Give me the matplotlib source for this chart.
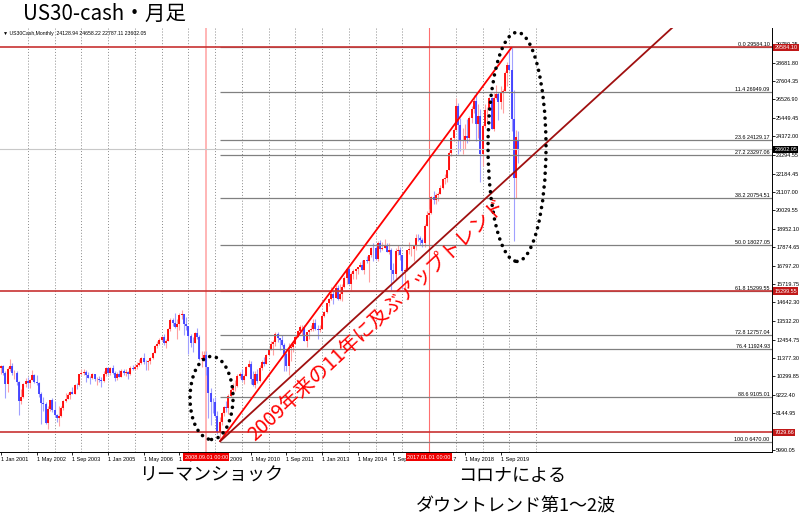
import numpy as np
import matplotlib
matplotlib.use('Agg')
import matplotlib.pyplot as plt
from matplotlib.patches import Ellipse
from matplotlib import font_manager as fm

plt.rcParams['font.family'] = ['Noto Sans CJK JP', 'DejaVu Sans']
_names = {f.name for f in fm.fontManager.ttflist}
SMALL = 'Liberation Sans Narrow' if 'Liberation Sans Narrow' in _names else 'Liberation Sans'

# ---------------- data (monthly bars, Jan 2001 .. May 2020) ----------------
first_open = 10788.0
last_open = 24128.94

close_2001 = [10887, 10495, 9879, 10735, 10912, 10502, 10523, 9950, 8848, 9075, 9852, 10022]
high_2001 = [10984, 10984, 10640, 10868, 11350, 11100, 10650, 10600, 10050, 9550, 9900, 10190]
low_2001 = [10435, 10390, 9047, 9390, 10600, 10375, 10175, 9820, 8062, 8660, 9050, 9700]

close_2002 = [9920, 10106, 10404, 9946, 9925, 9243, 8737, 8664, 7592, 8397, 8896, 8342]
high_2002 = [10260, 10160, 10670, 10450, 10400, 10000, 9400, 9120, 8800, 8540, 8930, 9040]
low_2002 = [9650, 9600, 10100, 9900, 9800, 9100, 7532, 8250, 7500, 7197, 8250, 8230]

close_2003 = [8054, 7891, 7992, 8480, 8850, 8985, 9234, 9416, 9275, 9801, 9782, 10454]
high_2003 = [8870, 8110, 8550, 8550, 8920, 9350, 9340, 9460, 9690, 9830, 9890, 10460]
low_2003 = [7950, 7650, 7417, 7900, 8350, 8800, 8950, 9000, 9250, 9250, 9550, 9760]

close_2004 = [10488, 10584, 10358, 10226, 10188, 10435, 10140, 10174, 10080, 10027, 10428, 10783]
high_2004 = [10760, 10760, 10700, 10580, 10300, 10500, 10450, 10250, 10350, 10250, 10600, 10870]
low_2004 = [10380, 10400, 10000, 10200, 9850, 10130, 10050, 9780, 10000, 9710, 10000, 10350]

close_2005 = [10490, 10766, 10504, 10193, 10467, 10275, 10641, 10482, 10569, 10440, 10806, 10718]
high_2005 = [10870, 10850, 10985, 10600, 10550, 10700, 10730, 10720, 10720, 10600, 10900, 10950]
low_2005 = [10360, 10400, 10420, 10010, 10100, 10250, 10250, 10400, 10350, 10150, 10400, 10650]

close_2006 = [10865, 10993, 11109, 11367, 11168, 11150, 11186, 11381, 11679, 12081, 12222, 12463]
high_2006 = [11050, 11120, 11300, 11450, 11670, 11250, 11260, 11450, 11720, 12170, 12350, 12530]
low_2006 = [10650, 10750, 10900, 11000, 11000, 10700, 10700, 11000, 11300, 11650, 11950, 12150]

close_2007 = [12622, 12269, 12354, 13063, 13628, 13409, 13212, 13358, 13896, 13930, 13372, 13265]
high_2007 = [12650, 12800, 12470, 13150, 13700, 13700, 14020, 13650, 14000, 14198, 13930, 13800]
low_2007 = [12350, 12150, 11940, 12350, 12950, 13250, 13150, 12510, 13000, 13670, 12740, 13050]

close_2008 = [12650, 12266, 12263, 12820, 12638, 11350, 11378, 11544, 10851, 9325, 8829, 8776]
high_2008 = [13280, 12770, 12630, 12900, 13130, 12700, 11800, 11810, 11790, 10880, 9650, 9030]
low_2008 = [11630, 12050, 11730, 12260, 12480, 11290, 10830, 11220, 10365, 7880, 7450, 8150]

close_2009 = [8001, 7063, 7609, 8168, 8500, 8447, 9172, 9496, 9712, 9713, 10345, 10428]
high_2009 = [9090, 8300, 7930, 8200, 8580, 8880, 9250, 9630, 9920, 10120, 10470, 10580]
low_2009 = [7900, 6950, 6470, 7450, 8000, 8200, 8090, 9080, 9250, 9430, 9670, 10230]

close_2010 = [10067, 10325, 10857, 11009, 10137, 9774, 10466, 10015, 10788, 11118, 11006, 11578]
high_2010 = [10730, 10420, 10910, 11260, 11210, 10600, 10600, 10720, 10960, 11250, 11450, 11620]
low_2010 = [10030, 9830, 10320, 10850, 9870, 9760, 9610, 9930, 9990, 10700, 10930, 11000]

close_2011 = [11892, 12226, 12320, 12811, 12570, 12414, 12143, 11614, 10913, 11955, 12046, 12218]
high_2011 = [11980, 12390, 12420, 12880, 12880, 12570, 12750, 12280, 11720, 12280, 12130, 12340]
low_2011 = [11550, 11860, 11550, 12090, 12330, 11860, 12100, 10600, 10600, 10360, 11230, 11730]

close_2012 = [12633, 12952, 13212, 13214, 12393, 12880, 13009, 13091, 13437, 13096, 13026, 13104]
high_2012 = [12720, 13010, 13290, 13340, 13340, 12900, 13080, 13330, 13650, 13660, 13290, 13310]
low_2012 = [12190, 12620, 12890, 12710, 12390, 12030, 12490, 12960, 12990, 13020, 12470, 12880]

close_2013 = [13861, 14054, 14579, 14840, 15116, 14910, 15500, 14810, 15130, 15546, 16086, 16577]
high_2013 = [13970, 14150, 14590, 14890, 15540, 15340, 15630, 15660, 15710, 15720, 16170, 16590]
low_2013 = [13100, 13780, 14000, 14440, 14750, 14550, 14900, 14760, 14780, 14720, 15480, 15700]

close_2014 = [15699, 16322, 16458, 16581, 16717, 16827, 16563, 17098, 17043, 17391, 17828, 17823]
high_2014 = [16590, 16400, 16590, 16630, 16740, 16980, 17150, 17150, 17350, 17400, 17900, 18100]
low_2014 = [15690, 15340, 16000, 16020, 16330, 16700, 16560, 16330, 16940, 15850, 17300, 17070]

close_2015 = [17165, 18133, 17776, 17841, 18011, 17620, 17690, 16528, 16285, 17664, 17720, 17425]
high_2015 = [17950, 18240, 18290, 18170, 18350, 18140, 18140, 17820, 16940, 17800, 17980, 17890]
low_2015 = [17130, 17040, 17580, 17690, 17810, 17600, 17460, 15370, 15940, 16010, 17400, 17140]

close_2016 = [16466, 16517, 17685, 17774, 17787, 17930, 18432, 18401, 18308, 18142, 19124, 19763]
high_2016 = [17410, 16650, 17720, 18170, 17930, 18020, 18620, 18670, 18540, 18400, 19230, 19990]
low_2016 = [15450, 15500, 16450, 17480, 17330, 17060, 17710, 18250, 17990, 17890, 17890, 19120]

close_2017 = [19864, 20812, 20663, 20941, 21009, 21350, 21891, 21948, 22405, 23377, 24272, 24719]
high_2017 = [20130, 20850, 21170, 21070, 21110, 21540, 21930, 22180, 22420, 23490, 24330, 24880]
low_2017 = [19680, 19830, 20410, 20380, 20550, 20990, 21280, 21600, 21710, 22420, 23240, 24090]

close_2018 = [26149, 25029, 24103, 24163, 24416, 24271, 25415, 25965, 26458, 25116, 25538, 23327]
high_2018 = [26617, 26310, 25450, 24860, 25090, 25400, 25530, 26170, 26770, 26950, 26280, 25980]
low_2018 = [24740, 23360, 23510, 23340, 23640, 23990, 24080, 25120, 25730, 24120, 24270, 21710]

close_2019 = [25000, 25916, 25929, 26593, 24815, 26600, 26864, 26403, 26917, 27046, 28051, 28538]
high_2019 = [25100, 26240, 26110, 26700, 26690, 26910, 27400, 26960, 27310, 27120, 28170, 28700]
low_2019 = [22640, 24880, 25210, 25940, 24810, 24680, 26580, 25340, 25980, 25740, 27010, 27330]

close_2020 = [28256, 25409, 21917, 24346, 23602.05]
high_2020 = [29370, 29584.10, 27100, 24765, 24658.22]
low_2020 = [28170, 24680, 18213, 20735, 22787.11]

years = list(range(2001, 2021))
closes = np.array(sum([globals()[f'close_{y}'] for y in years], []), dtype=float)
highs = np.array(sum([globals()[f'high_{y}'] for y in years], []), dtype=float)
lows = np.array(sum([globals()[f'low_{y}'] for y in years], []), dtype=float)
opens = np.concatenate([[first_open], closes[:-1]])
opens[-1] = last_open
months = np.arange(len(closes))  # 0 = Jan 2001

# Fibonacci retracement
fib_names = ['0.0', '11.4', '23.6', '27.2', '38.2', '50.0', '61.8', '72.8', '76.4', '88.6', '100.0']
fib_values = [29584.10, 26949.09, 24129.17, 23297.06, 20754.51, 18027.05, 15299.55,
              12757.04, 11924.93, 9105.01, 6470.00]
fib_start_month = 98

red_levels = [29584.10, 15299.55, 7029.66]
current_price = 23602.05

axis_levels = [5990.05, 8144.95, 9222.40, 10299.85, 11377.30, 12454.75, 13532.20,
               14642.30, 15719.75, 16797.20, 17874.65, 18952.10, 20029.55, 21107.00,
               22184.45, 23294.55, 24372.00, 25449.45, 26526.90, 27604.35, 28681.80, 29759.25]

date_tick_months = [0, 16, 32, 48, 64, 80, 96, 112, 128, 144, 160, 176, 192, 208, 224]
date_tick_labels = ['1 Jan 2001', '1 May 2002', '1 Sep 2003', '1 Jan 2005', '1 May 2006',
                    '1 Sep 2007', '1 Jan 2009', '1 May 2010', '1 Sep 2011', '1 Jan 2013',
                    '1 May 2014', '1 Sep 2015', '1 Jan 2017', '1 May 2018', '1 Sep 2019']
grid_months = list(range(12, 241, 12))

marker_months = [92, 192]
marker_labels = ['2008.09.01 00:00', '2017.01.01 00:00']

trend_fast = ([98, 229], [6470.00, 29584.10])
trend_slow = ([98, 302], [6470.00, 30850.0])

# ---------------- figure ----------------
W, H = 800, 529
fig = plt.figure(figsize=(W / 100, H / 100), dpi=100, facecolor='white')
ax = fig.add_axes([0, (H - 452) / H, 772 / W, 424 / H])
ax.set_xlim(-0.45, 345.74)
ax.set_ylim(5873, 30715)
ax.set_facecolor('white')

for s in ['top', 'left']:
    ax.spines[s].set_visible(False)
for s in ['right', 'bottom']:
    ax.spines[s].set_color('black')
    ax.spines[s].set_linewidth(0.7)

# grid
ax.vlines(grid_months, 0, 1, transform=ax.get_xaxis_transform(), colors='#8a8a8a',
          linewidth=0.7, linestyles=(0, (1, 2)), zorder=1)
# vertical marker lines
ax.axvline(marker_months[0], color='#ffb0b0', lw=1.3, zorder=1.5)
ax.axvline(marker_months[1], color='#ff7070', lw=0.8, zorder=1.5)

# candles
up = closes >= opens
dn = ~up
ax.vlines(months[up], lows[up], highs[up], color='#ffa0a0', lw=0.8, zorder=2)
ax.vlines(months[dn], lows[dn], highs[dn], color='#a0a0ff', lw=0.8, zorder=2)
ax.vlines(months[up], opens[up], closes[up], color='#ff0000', lw=1.3, zorder=2.2)
ax.vlines(months[dn], closes[dn], opens[dn], color='#3c3cff', lw=1.3, zorder=2.2)

# current price line
ax.axhline(current_price, color='#c8c8c8', lw=0.8, zorder=2.5)

# fib lines + labels
for nm, v in zip(fib_names, fib_values):
    ax.hlines(v, fib_start_month, 345.74, color='#808080', lw=0.9, zorder=3)
    ax.text(0.997, v, f'{nm} {v:.2f}', transform=ax.get_yaxis_transform(), ha='right',
            va='bottom', fontsize=3.9, family=SMALL, color='black', zorder=6)

# red horizontal lines
for v in red_levels:
    ax.axhline(v, color='#c83232', lw=1.2, zorder=3.2)

# trend lines
ax.plot(*trend_fast, color='#ff0000', lw=1.3, zorder=4, solid_capstyle='butt')
ax.plot(*trend_slow, color='#a01010', lw=1.3, zorder=4, solid_capstyle='butt')

# dotted ellipses
for (cx, cy, w, h) in [(94.4, 9040, 19.3, 4870), (231.4, 23750, 26.0, 13420)]:
    e = Ellipse((cx, cy), w, h, fill=False, edgecolor='black', lw=2.6,
                linestyle=(0, (0.01, 1.9)), zorder=5)
    e.set_capstyle('round')
    ax.add_patch(e)

# diagonal annotation
ax.text(168.6, 13606, '2009年来の11年に及ぶアップトレンド', rotation=43, rotation_mode='anchor',
        ha='center', va='center', color='#ff0000', fontsize=14.3, zorder=6)

# y axis (right)
ax.yaxis.tick_right()
ax.set_yticks(axis_levels)
ax.set_yticklabels([f'{v:.2f}' for v in axis_levels], fontsize=4.0, family=SMALL)
ax.tick_params(axis='y', length=2.2, width=0.6, pad=0.8, colors='black')

# x axis
ax.set_xticks(date_tick_months)
ax.set_xticklabels(date_tick_labels, fontsize=4.0, family=SMALL)
for t in ax.get_xticklabels():
    t.set_ha('left')
ax.tick_params(axis='x', length=2, width=0.6, pad=1.5, colors='black')

# price boxes
for v in red_levels:
    ax.text(1.003, v, f'{v:.2f}', transform=ax.get_yaxis_transform(), ha='left', va='center',
            fontsize=4.0, family=SMALL, color='white', clip_on=False, zorder=7,
            bbox=dict(boxstyle='square,pad=0.2', facecolor='#c01818', edgecolor='none'))
ax.text(1.003, current_price, f'{current_price:.2f}', transform=ax.get_yaxis_transform(),
        ha='left', va='center', fontsize=4.0, family=SMALL, color='white', clip_on=False,
        zorder=7, bbox=dict(boxstyle='square,pad=0.2', facecolor='black', edgecolor='none'))

# date boxes
for mm, lab in zip(marker_months, marker_labels):
    ax.text(mm, -0.0125, lab, transform=ax.get_xaxis_transform(), ha='center', va='center',
            fontsize=4.0, family=SMALL, color='white', clip_on=False, zorder=7,
            bbox=dict(boxstyle='square,pad=0.25', facecolor='#f00000', edgecolor='none'))

# header line
ax.text(0.004, 0.992, '▼ US30Cash,Monthly  24128.94 24658.22 22787.11 23602.05',
        transform=ax.transAxes, ha='left', va='top', fontsize=3.7,
        family=[SMALL, 'DejaVu Sans'], color='black', zorder=7)

# title and bottom notes
fig.text(23 / W, 1 - 14 / H, 'US30-cash・月足', fontsize=14.8, ha='left', va='center', color='black')
fig.text(211 / W, 1 - 476 / H, 'リーマンショック', fontsize=13, ha='center', va='center', color='black')
fig.text(512 / W, 1 - 476 / H, 'コロナによる', fontsize=13, ha='center', va='center', color='black')
fig.text(516 / W, 1 - 507 / H, 'ダウントレンド第1〜2波', fontsize=13, ha='center', va='center', color='black')

fig.savefig('out.png', dpi=100, facecolor='white')
